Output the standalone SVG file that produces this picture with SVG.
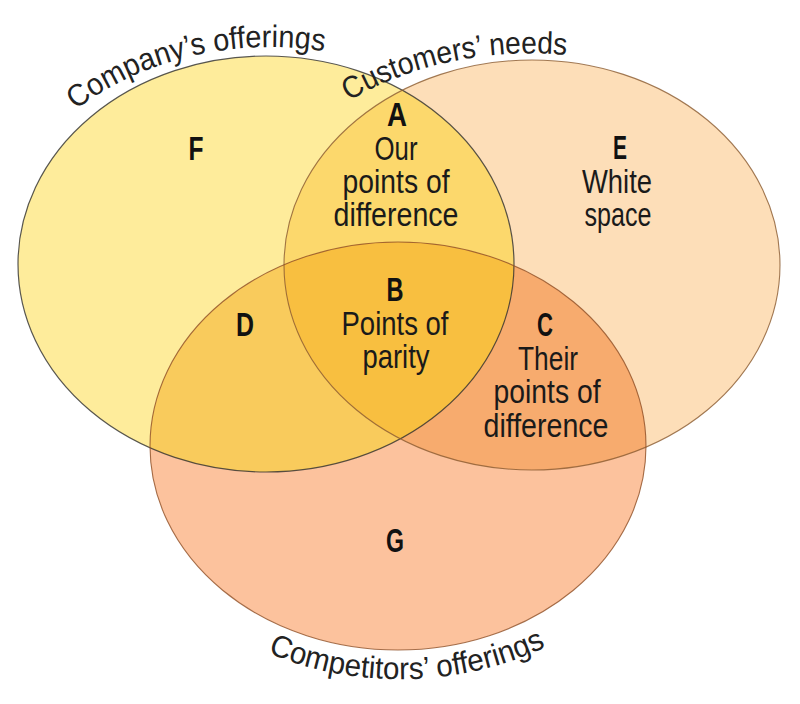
<svg xmlns="http://www.w3.org/2000/svg" xmlns:xlink="http://www.w3.org/1999/xlink" width="800" height="704" viewBox="0 0 800 704">
  <style>
    .lbl { font-family: "Liberation Sans", Arial, sans-serif; font-size: 33px; fill: #1a1a1a; text-anchor: middle; }
    .let { font-family: "Liberation Sans", Arial, sans-serif; font-size: 34px; font-weight: bold; fill: #111; text-anchor: middle; }
    .arc { font-family: "Liberation Sans", Arial, sans-serif; font-size: 31px; fill: #222; }
    .edge { fill: none; stroke-opacity: 0.8; }
  </style>
  <defs>
    <clipPath id="clipL"><ellipse cx="266" cy="264" rx="248" ry="208"/></clipPath>
    <clipPath id="clipR"><ellipse cx="532" cy="265" rx="248" ry="205"/></clipPath>
    <path id="pathL" d="M 76,110 A 275 216 0 0 1 545,263"/>
    <path id="pathR" d="M 349,101 A 287 210 0 0 1 818,263"/>
    <path id="pathB" d="M 268,653 A 290 239 0 0 0 690,440"/>
  </defs>
  <rect width="800" height="704" fill="#ffffff"/>

  <g id="fills">
    <ellipse cx="266" cy="264" rx="248" ry="208" fill="#FEEC9B"/>
    <ellipse cx="532" cy="265" rx="248" ry="205" fill="#FDDEB8"/>
    <ellipse cx="398" cy="446" rx="248" ry="204" fill="#FCC29D"/>
    <ellipse cx="532" cy="265" rx="248" ry="205" fill="#FCD86C" clip-path="url(#clipL)"/>
    <ellipse cx="398" cy="446" rx="248" ry="204" fill="#F9CB5C" clip-path="url(#clipL)"/>
    <ellipse cx="398" cy="446" rx="248" ry="204" fill="#F7AB6E" clip-path="url(#clipR)"/>
    <g clip-path="url(#clipR)">
      <ellipse cx="398" cy="446" rx="248" ry="204" fill="#F8BF40" clip-path="url(#clipL)"/>
    </g>
  </g>

  <g id="company">
    <ellipse class="edge" cx="266" cy="264" rx="248" ry="208" stroke="#2e2e2e" stroke-width="1.2"/>
    <text class="arc"><textPath xlink:href="#pathL" href="#pathL" textLength="262" lengthAdjust="spacingAndGlyphs">Company’s offerings</textPath></text>
  </g>
  <g id="customers">
    <ellipse class="edge" cx="532" cy="265" rx="248" ry="205" stroke="#8a5a30" stroke-width="1.1"/>
    <text class="arc"><textPath xlink:href="#pathR" href="#pathR" textLength="226" lengthAdjust="spacingAndGlyphs">Customers’ needs</textPath></text>
  </g>
  <g id="competitors">
    <ellipse class="edge" cx="398" cy="446" rx="248" ry="204" stroke="#8f4f25" stroke-width="1.1"/>
    <text class="arc"><textPath xlink:href="#pathB" href="#pathB" textLength="286" lengthAdjust="spacingAndGlyphs">Competitors’ offerings</textPath></text>
  </g>

  <g id="region-F">
    <text class="let" x="196" y="160" textLength="15" lengthAdjust="spacingAndGlyphs">F</text>
  </g>
  <g id="region-A">
    <text class="let" x="397" y="126" textLength="20" lengthAdjust="spacingAndGlyphs">A</text>
    <text class="lbl" x="396" y="160" textLength="43" lengthAdjust="spacingAndGlyphs">Our</text>
    <text class="lbl" x="396" y="193" textLength="107" lengthAdjust="spacingAndGlyphs">points of</text>
    <text class="lbl" x="396" y="226" textLength="125" lengthAdjust="spacingAndGlyphs">difference</text>
  </g>
  <g id="region-E">
    <text class="let" x="620" y="159" textLength="14" lengthAdjust="spacingAndGlyphs">E</text>
    <text class="lbl" x="617" y="193" textLength="70" lengthAdjust="spacingAndGlyphs">White</text>
    <text class="lbl" x="618" y="226" textLength="67" lengthAdjust="spacingAndGlyphs">space</text>
  </g>
  <g id="region-B">
    <text class="let" x="395" y="301" textLength="17" lengthAdjust="spacingAndGlyphs">B</text>
    <text class="lbl" x="395" y="335" textLength="107" lengthAdjust="spacingAndGlyphs">Points of</text>
    <text class="lbl" x="396" y="368" textLength="67" lengthAdjust="spacingAndGlyphs">parity</text>
  </g>
  <g id="region-D">
    <text class="let" x="245" y="336" textLength="18" lengthAdjust="spacingAndGlyphs">D</text>
  </g>
  <g id="region-C">
    <text class="let" x="545" y="336" textLength="16" lengthAdjust="spacingAndGlyphs">C</text>
    <text class="lbl" x="548" y="370" textLength="60" lengthAdjust="spacingAndGlyphs">Their</text>
    <text class="lbl" x="547" y="403" textLength="107" lengthAdjust="spacingAndGlyphs">points of</text>
    <text class="lbl" x="546" y="437" textLength="125" lengthAdjust="spacingAndGlyphs">difference</text>
  </g>
  <g id="region-G">
    <text class="let" x="395" y="552" textLength="18" lengthAdjust="spacingAndGlyphs">G</text>
  </g>
</svg>
